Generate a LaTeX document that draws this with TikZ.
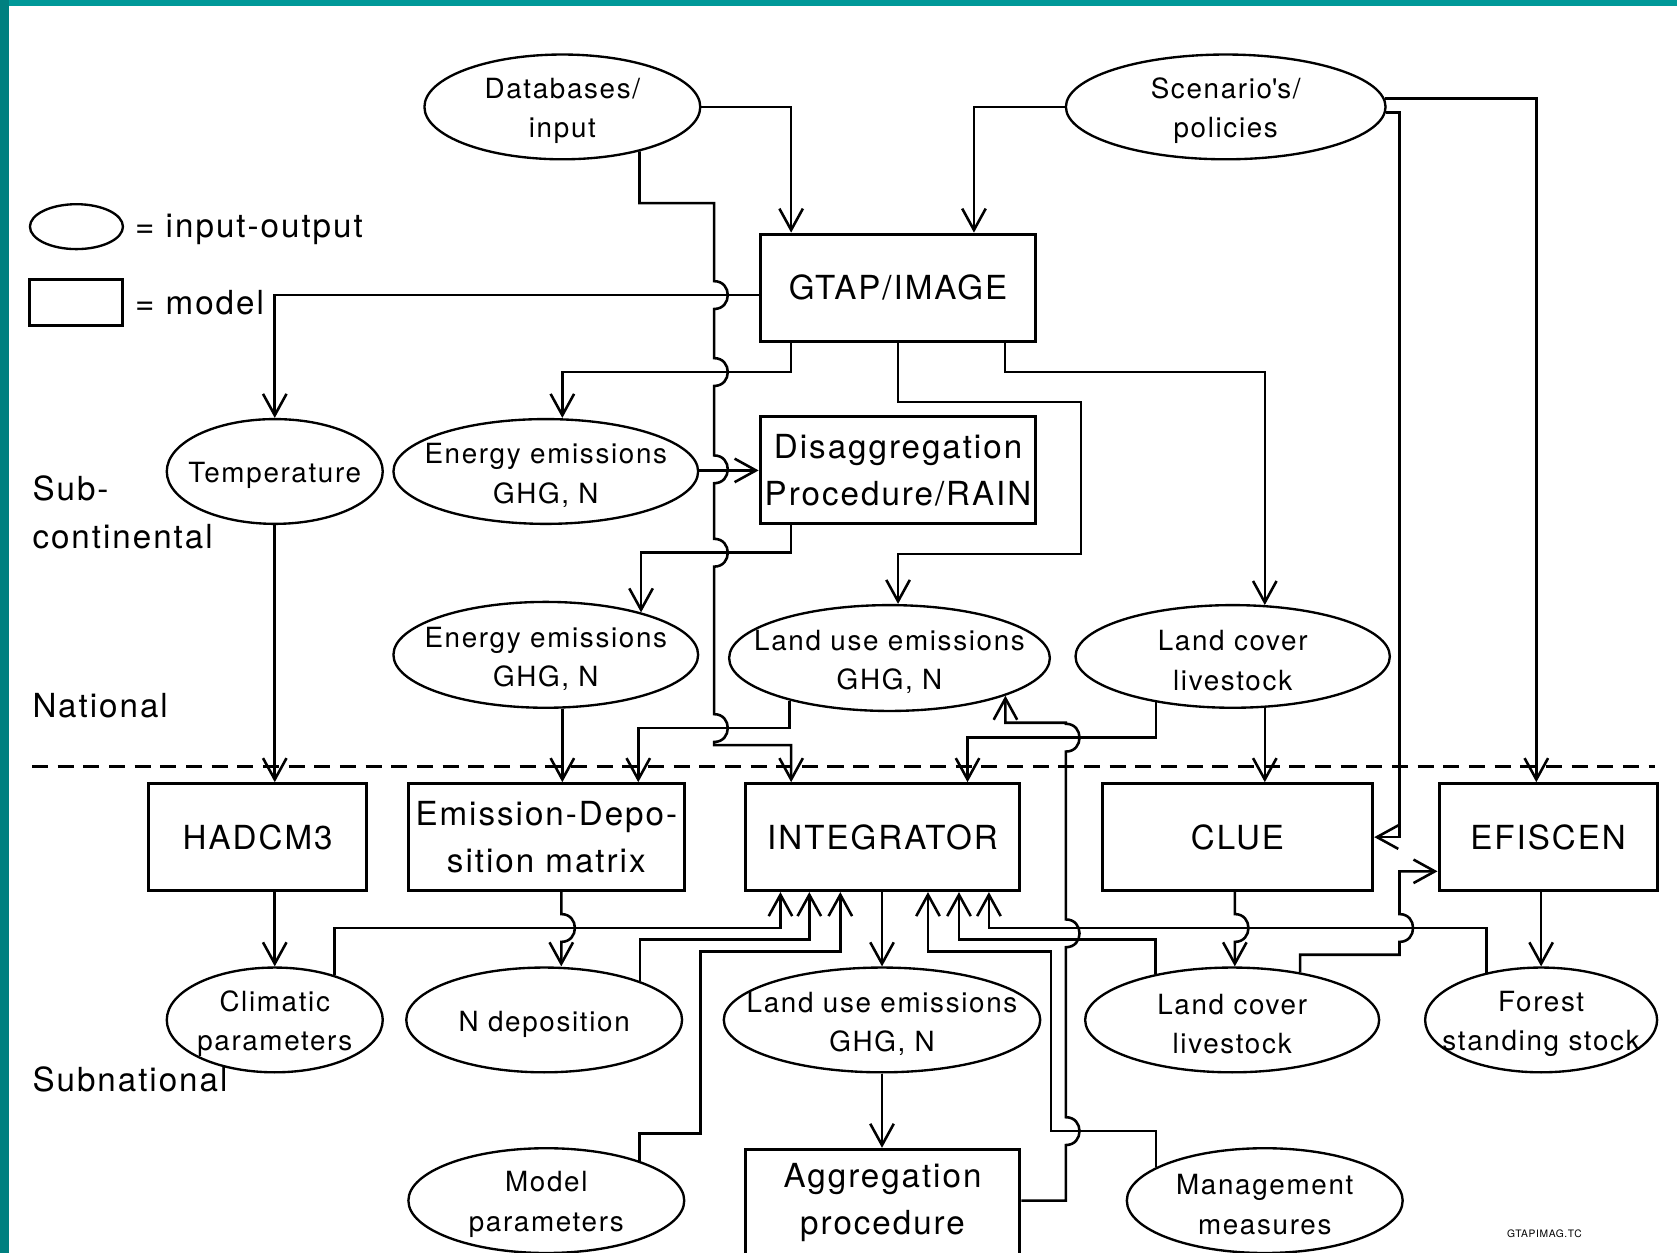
\documentclass[tikz,border=0pt]{standalone}
\usepackage{fontspec}
\setmainfont{TeX Gyre Heros}[LetterSpace=6.0]
\usetikzlibrary{arrows.meta,shapes.geometric}

\definecolor{frametop}{RGB}{0,153,153}
\definecolor{frameleft}{RGB}{0,128,128}

% a vertical line jumping over a crossing line at height #2
\newcommand{\hopdown}[2]{-- (#1,#2-13) .. controls (#1+17,#2-13) and (#1+17,#2+13) .. (#1,#2+13)}
\newcommand{\hopup}[2]{-- (#1,#2+13) .. controls (#1+17,#2+13) and (#1+17,#2-13) .. (#1,#2-13)}
% lowers the text in the ellipses a little
\newcommand{\iostrut}{\rule{0pt}{13.2pt}}

\begin{document}
\begin{tikzpicture}[x=0.5pt,y=-0.5pt,
  >={Straight Barb[length=10pt,width=11pt]},
  io/.style={ellipse,draw,line width=1.1pt,inner xsep=-25pt,inner ysep=-6pt,
    align=center,font=\fontsize{13}{18.5}\selectfont},
  model/.style={rectangle,draw,line width=1.4pt,inner sep=0pt,
    align=center,font=\fontsize{15.5}{22}\selectfont},
  conn/.style={line width=1.2pt,->},
  lbl/.style={anchor=base west,inner sep=0pt,font=\fontsize{15.5}{22}\selectfont}]
\useasboundingbox (0,0) rectangle (1568.6,1172);
\clip (0,0) rectangle (1568.6,1172);

% frame
\fill[frametop] (0,0) rectangle (1568.6,6);
\fill[frameleft] (0,0) rectangle (8.5,1172);

% legend
\node[io,minimum width=43.5pt,minimum height=21pt] (legio) at (71.5,212) {};
\node[model,minimum width=43.5pt,minimum height=21.5pt] (legmod) at (71.5,282.5) {};
\node[lbl] (legiotxt) at (126,222) {= input-output};
\node[lbl] (legmodtxt) at (126,294) {= model};

% levels
\node[lbl] (subc) at (30,468) {Sub-};
\node[lbl] (subcb) at (30,513) {continental};
\node[lbl] (nat) at (30,671) {National};
\node[lbl] (subnat) at (30,1021) {Subnational};
\draw[line width=1.2pt,dash pattern=on 7.5pt off 4.5pt] (30,717) -- (1548,717);

% sub-continental
\node[io,minimum width=129pt,minimum height=49pt] (db) at (526,100) {\iostrut Databases/\\input};
\node[io,minimum width=149.5pt,minimum height=49pt] (scen) at (1146.5,100) {\iostrut Scenario\textquotesingle s/\\policies};
\node[model,minimum width=129pt,minimum height=50pt] (gtap) at (840,269) {GTAP/IMAGE};
\node[io,minimum width=101pt,minimum height=49pt] (temp) at (257,441) {\iostrut Temperature};
\node[io,minimum width=142.5pt,minimum height=49pt] (eesub) at (510.5,441) {\iostrut Energy emissions\\GHG, N};
\node[model,minimum width=129pt,minimum height=50pt] (disagg) at (840,440) {Disaggregation\\Procedure/RAIN};

% national
\node[io,minimum width=142.5pt,minimum height=49.5pt] (eenat) at (510.5,612.5) {\iostrut Energy emissions\\GHG, N};
\node[io,minimum width=150pt,minimum height=49.5pt] (lunat) at (832,615.5) {\iostrut Land use emissions\\GHG, N};
\node[io,minimum width=147pt,minimum height=48pt] (lcnat) at (1153,614) {\iostrut Land cover\\livestock};

% subnational models
\node[model,minimum width=102pt,minimum height=50pt] (hadcm) at (241,783) {HADCM3};
\node[model,minimum width=129pt,minimum height=50pt] (emdep) at (511,783) {Emission-Depo-\\sition matrix};
\node[model,minimum width=128.5pt,minimum height=50pt] (integ) at (825.5,783) {INTEGRATOR};
\node[model,minimum width=126.5pt,minimum height=50pt] (clue) at (1157.5,783) {CLUE};
\node[model,minimum width=102pt,minimum height=50pt] (efiscen) at (1448,783) {EFISCEN};

% subnational input-output
\node[io,minimum width=101pt,minimum height=49pt] (clim) at (257,954) {\iostrut Climatic\\parameters};
\node[io,minimum width=129pt,minimum height=49pt] (ndep) at (509,954) {\iostrut N deposition};
\node[io,minimum width=148pt,minimum height=49pt] (lusub) at (825,954) {\iostrut Land use emissions\\GHG, N};
\node[io,minimum width=137.5pt,minimum height=49pt] (lcsub) at (1152.5,954) {\iostrut Land cover\\livestock};
\node[io,minimum width=108.5pt,minimum height=49pt] (forest) at (1441.5,954) {\iostrut Forest\\standing stock};
\node[io,minimum width=129pt,minimum height=49pt] (modpar) at (511,1123) {\iostrut Model\\parameters};
\node[model,minimum width=128.5pt,minimum height=50pt] (aggr) at (825.5,1125) {Aggregation\\procedure};
\node[io,minimum width=129pt,minimum height=49pt] (mgmt) at (1183,1123) {\iostrut Management\\measures};
\node[inner sep=0pt,font=\fontsize{4.8}{6}\selectfont] (fname) at (1444.6,1154) {GTAPIMAG.TC};

% inputs
\draw[conn] (db.east) -| (740,0 |- gtap.north);
\draw[conn] (scen.west) -| (911,0 |- gtap.north);
\draw[conn] (scen.3) -| (1437,0 |- efiscen.north);
\draw[conn] (scen.-2) -| (1309,783) -- (clue.east);
\draw[conn] (db.-30) |- (668,190) \hopdown{668}{276} \hopdown{668}{348} \hopdown{668}{439}
  \hopdown{668}{517} \hopdown{668}{681} -- (668,697) -| (740,0 |- integ.north);

% sub-continental
\draw[conn] (gtap.west |- 0,276) -| (temp.north);
\draw[conn] (740,0 |- gtap.south) -- (740,348) -| (526,0 |- eesub.north);
\draw[conn] (gtap.south) -- (840,376) -- (1011,376) -- (1011,518) -| (840,0 |- lunat.north);
\draw[conn] (940,0 |- gtap.south) -- (940,348) -| (lcnat.58);
\draw[conn] (eesub.east |- disagg.west) -- (disagg.west);
\draw[conn] (740,0 |- disagg.south) -- (740,517) -| (eenat.24);
\draw[conn] (temp.south) -- (temp.south |- hadcm.north);

% national
\draw[conn] (526,0 |- eenat.south) -- (526,0 |- emdep.north);
\draw[conn] (lunat.-157) |- (597,681) -- (597,0 |- emdep.north);
\draw[conn] (lcnat.-149) |- (905,690) -- (905,0 |- integ.north);
\draw[conn] (lcnat.-58) -- (lcnat.-58 |- clue.north);
\draw[conn] (aggr.east |- 0,1123) -- (997,1123) \hopup{997}{1058} \hopup{997}{873}
  \hopup{997}{690} -- (997,676) -| (lunat.-18);

% subnational
\draw[conn] (clim.north |- hadcm.south) -- (clim.north);
\draw[conn] (525,0 |- emdep.south) \hopdown{525}{868} -- (525,0 |- ndep.north);
\draw[conn] (clim.37) |- (730,868) -- (730,0 |- integ.south);
\draw[conn] (ndep.22) |- (757,879) -- (757,0 |- integ.south);
\draw[conn] (modpar.23) |- (655,1060) -- (655,890) -| (786,0 |- integ.south);
\draw[conn] (lusub.north |- integ.south) -- (lusub.north);
\draw[conn] (lusub.south) -- (lusub.south |- aggr.north);
\draw[conn] (mgmt.163) |- (983,1058) -- (983,890) -| (868,0 |- integ.south);
\draw[conn] (lcsub.149) |- (897,879) -- (897,0 |- integ.south);
\draw[conn] (forest.139) |- (925,868) -- (925,0 |- integ.south);
\draw[conn] (1155,0 |- clue.south) \hopdown{1155}{868} -- (1155,0 |- lcsub.north);
\draw[conn] (lcsub.35) |- (1309,893) \hopup{1309}{868} -- (1309,815) -- (efiscen.west |- 0,815);
\draw[conn] (forest.north |- efiscen.south) -- (forest.north);
\end{tikzpicture}
\end{document}
